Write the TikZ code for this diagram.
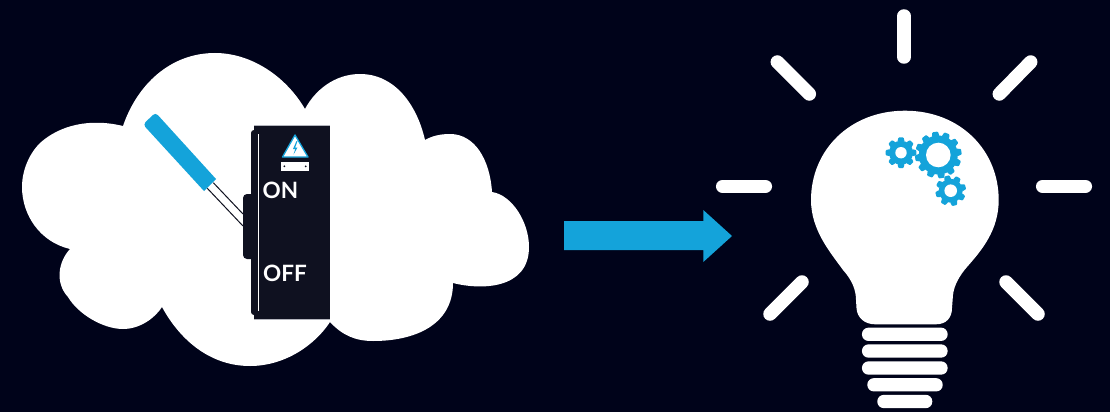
\documentclass[tikz,border=0pt]{standalone}
\usepackage{fontspec}
\setmainfont{Lato}
\usepackage{xcolor}
\usepackage{tikz}
\definecolor{nightbg}{HTML}{00031A}
\definecolor{iconblue}{HTML}{14A3DA}
\definecolor{panel}{HTML}{0F1120}
\definecolor{paneledge}{HTML}{B4B6BE}
\newcommand{\gearwheel}[7]{%
  \fill[iconblue] (#1,#2) circle (#4);
  \foreach \t in {1,...,#6}{
    \fill[iconblue,rounded corners=.8pt,rotate around={#7+\t*360/#6:(#1,#2)}]
      (#1-#4*2.4/#6,#2-#4+1) -- (#1-#4*1.7/#6,#2-#3) -- (#1+#4*1.7/#6,#2-#3) -- (#1+#4*2.4/#6,#2-#4+1) -- cycle;
  }
  \fill[white] (#1,#2) circle (#5);
}
\begin{document}
\begin{tikzpicture}[x=1pt,y=-1pt,
  ray/.style={white,line width=13.5pt,line cap=round},
  ring/.style={fill=white,rounded corners=6.5pt,minimum height=13.3pt,inner sep=0pt},
  lever/.style={panel,line width=1pt},
  switchlabel/.style={white,font=\fontsize{22.5}{22.5}\selectfont\bfseries,anchor=base west,inner sep=0pt}]
  \useasboundingbox (0,0) rectangle (1110,412);
  \fill[nightbg] (0,0) rectangle (1110,412);
  \fill[white] (123,126) .. controls (90,118) and (60,125) .. (40,143)
    .. controls (28,155) and (22,172) .. (22,187)
    .. controls (22,215) and (40,242) .. (70,249)
    .. controls (58,262) and (55,283) .. (68,297)
    .. controls (78,314) and (103,329) .. (123,329)
    .. controls (140,329) and (155,318) .. (162,307)
    .. controls (180,340) and (210,366) .. (250,366)
    .. controls (285,366) and (315,345) .. (330,322)
    .. controls (342,335) and (355,341) .. (373,341)
    .. controls (415,341) and (453,325) .. (453,283)
    .. controls (480,290) and (529,290) .. (529,247)
    .. controls (529,222) and (512,195) .. (492,192)
    .. controls (490,160) and (475,134) .. (450,134)
    .. controls (440,134) and (432,136) .. (425,140)
    .. controls (417,105) and (395,74) .. (360,74)
    .. controls (335,74) and (315,90) .. (305,109)
    .. controls (285,75) and (250,53) .. (215,53)
    .. controls (170,53) and (137,85) .. (123,126) -- cycle;
  \draw[lever] (207.3,188.3) -- (243,226);
  \draw[lever] (213.3,182.7) -- (243,214);
  \fill[iconblue] (204,191) [rounded corners=3.5pt] -- (143,124.5) -- (155.5,112.5) [sharp corners] -- (216,179) -- cycle;
  \fill[panel,rounded corners=3pt] (258,130) -- (251,130) -- (251,315) -- (258,315) -- cycle;
  \fill[panel,rounded corners=4pt] (256,194) -- (243,194) -- (243,259) -- (256,259) -- cycle;
  \fill[panel] (254,125.7) rectangle (330,319.3);
  \draw[paneledge,line width=.7pt] (254,125.7) -- (330,125.7);
  \draw[paneledge,line width=.7pt] (254,319.3) -- (330,319.3);
  \draw[white,line width=1pt] (258.3,134) -- (258.3,311);
  \fill[white,draw=iconblue,line width=1.3pt,line join=round] (295,135) -- (308,157) -- (282.5,157) -- cycle;
  \fill[iconblue] (296.5,141) -- (293,149) -- (295.3,149) -- (293.5,154.5) -- (297.5,147.5) -- (295.2,147.5) -- (297.5,141) -- cycle;
  \fill[white] (281,162.3) rectangle (309,170.7);
  \fill[panel] (284.3,166.3) circle (1);
  \fill[panel] (305.7,166.3) circle (1);
  \node[switchlabel] (on) at (262.5,198.3) {ON};
  \node[switchlabel] (off) at (263,281.7) {OFF};
  \fill[iconblue] (564,221) -- (703.3,221) -- (703.3,210) -- (732,236) -- (703.3,262) -- (703.3,250) -- (564,250) -- cycle;
  \draw[ray] (904,16) -- (904,57);
  \draw[ray] (777.3,62) -- (809.3,94);
  \draw[ray] (1030.7,62) -- (999.3,94);
  \draw[ray] (722.7,186.3) -- (765.3,186.3);
  \draw[ray] (1042.7,186.3) -- (1085.3,186.3);
  \draw[ray] (802,282) -- (770,314);
  \draw[ray] (1006,282) -- (1038,314);
  \fill[white] (905,110.7) .. controls (850,110.7) and (811,150) .. (811,200)
    .. controls (811,230) and (830,252) .. (843,270)
    .. controls (852,280) and (856,290) .. (856,300) -- (856.5,308)
    .. controls (857,318) and (865,324.3) .. (875,324.3) -- (936,324.3)
    .. controls (946,324.3) and (952,318) .. (952,308) -- (953,295)
    .. controls (954,285) and (960,275) .. (967,267)
    .. controls (982,250) and (998.7,230) .. (998.7,200)
    .. controls (998.7,150) and (960,110.7) .. (905,110.7) -- cycle;
  \node[ring,minimum width=85.7pt] (ring1) at (904.8,334.3) {};
  \node[ring,minimum width=85.7pt] (ring2) at (904.8,351) {};
  \node[ring,minimum width=85.7pt] (ring3) at (904.8,368) {};
  \node[ring,minimum width=75.4pt] (ring4) at (905,384.8) {};
  \node[ring,minimum width=55pt] (ring5) at (904.8,401.5) {};
  \gearwheel{901}{152.7}{15.3}{12}{5.7}{8}{0}
  \gearwheel{950.7}{190.7}{15.3}{12}{6.3}{8}{15}
  \gearwheel{938.3}{155}{23.3}{19.5}{12.3}{12}{8}
\end{tikzpicture}
\end{document}
